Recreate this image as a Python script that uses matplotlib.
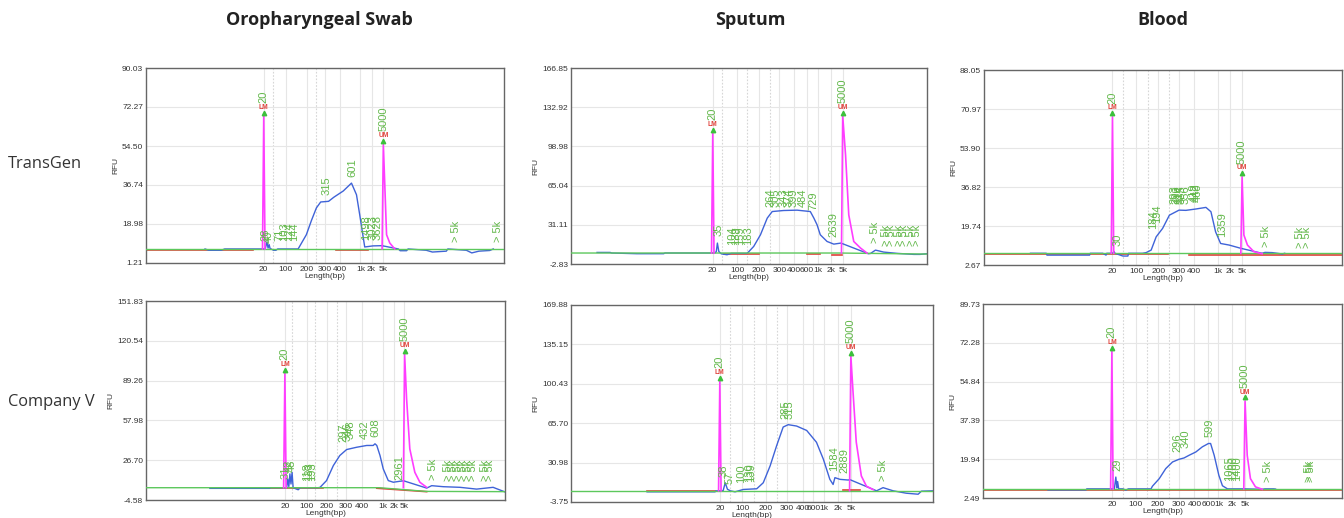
import matplotlib
matplotlib.use('Agg')
import matplotlib.pyplot as plt
from matplotlib import font_manager
from matplotlib.transforms import offset_copy

_installed = {f.name for f in font_manager.fontManager.ttflist}
NARROW = 'Liberation Sans Narrow' if 'Liberation Sans Narrow' in _installed else 'Liberation Sans'
plt.rcParams['font.family'] = ['Liberation Sans', 'DejaVu Sans']

# 标题
COLUMNS = ['Oropharyngeal Swab', 'Sputum', 'Blood']
ROWS = ['TransGen', 'Company V']

LADDER_8 = ['20', '100', '200', '300', '400', '1k', '2k', '5k']
LADDER_9 = ['20', '100', '200', '300', '400', '600', '1k', '2k', '5k']

# x 轴为迁移位置 (0-100)，y 轴为 RFU
# ---- Oropharyngeal Swab / TransGen ----
SWAB_TG_YTICKS = [1.21, 18.98, 36.74, 54.50, 72.27, 90.03]
SWAB_TG_XPOS = [32.9, 39.0, 45.0, 50.0, 54.1, 59.9, 63.0, 66.3]
SWAB_TG_DOTTED = [35.5, 47.5]
SWAB_TG_X = [16.5, 17.5, 21.0, 22.0, 33.3, 33.8, 34.1, 34.4, 34.7, 35.0, 35.6, 36.3, 36.8,
             42.5, 44.8, 46.2, 47.6, 48.8, 51.0, 52.5, 55.1, 57.4, 58.8, 59.7, 61.1, 63.4,
             65.9, 70.5, 71.0, 72.8, 73.2, 78.3, 80.0, 83.9, 84.3, 89.5, 91.0, 93.0, 96.0, 97.0]
SWAB_TG_Y = [7.6, 7.0, 7.0, 7.6, 7.6, 10.8, 8.0, 9.6, 7.6, 7.6, 7.0, 7.0, 7.6,
             7.6, 14.1, 20.5, 26.3, 29.0, 29.3, 31.2, 34.0, 37.6, 32.3, 23.2, 8.5, 9.0,
             9.1, 7.6, 6.8, 6.8, 7.6, 7.0, 6.2, 6.6, 7.6, 7.0, 5.8, 6.6, 6.9, 7.6]
SWAB_TG_LM = (32.9, 68.0)
SWAB_TG_UM = (66.3, 55.1)
SWAB_TG_TAIL_X = [67.2, 68.1, 69.5]
SWAB_TG_TAIL_Y = [14.1, 10.3, 7.6]
SWAB_TG_BASE_X = [0, 100]
SWAB_TG_BASE_Y = [7.6, 7.6]
SWAB_TG_RED = [(0, 30.0, 7.2, 7.2), (53.2, 62.0, 6.9, 6.9)]
SWAB_TG_PEAKS = [(33.3, 11.4, '28'), (34.4, 10.3, '40'), (37.4, 11.1, '71'), (38.5, 11.1, '103'),
                 (40.0, 11.1, '124'), (41.3, 11.1, '144'), (50.4, 32.0, '315'), (57.7, 40.2, '601'),
                 (61.4, 11.8, '1498'), (63.3, 11.8, '3023'), (64.7, 11.8, '3628'),
                 (86.7, 10.8, '> 5k'), (98.3, 10.8, '> 5k')]

# ---- Sputum / TransGen ----
SPUT_TG_YTICKS = [-2.83, 31.11, 65.04, 98.98, 132.92, 166.85]
SPUT_TG_XPOS = [39.8, 46.6, 52.8, 58.5, 62.5, 66.3, 69.3, 73.0, 76.3]
SPUT_TG_DOTTED = [42.4, 49.4, 56.0]
SPUT_TG_X = [7.3, 11.0, 11.4, 18.5, 26.0, 26.4, 40.4, 40.8, 41.1, 41.5, 42.2, 43.8, 45.0,
             49.4, 49.9, 51.3, 53.2, 55.1, 56.5, 59.7, 63.5, 67.2, 68.2, 69.1, 70.0, 71.9,
             73.8, 75.8, 83.5, 84.1, 85.5, 86.5, 87.8, 91.6, 96.3, 98.0, 100.0]
SPUT_TG_Y = [7.2, 7.2, 6.7, 6.1, 6.1, 6.7, 6.7, 8.0, 15.3, 8.0, 6.0, 5.2, 6.4,
             6.4, 7.8, 12.4, 22.5, 36.9, 42.6, 43.5, 43.8, 42.6, 36.9, 31.1, 22.5, 16.7,
             14.4, 15.3, 6.1, 6.3, 9.2, 8.5, 7.5, 6.4, 5.5, 5.5, 6.1]
SPUT_TG_LM = (39.8, 110.2)
SPUT_TG_UM = (76.3, 125.1)
SPUT_TG_TAIL_X = [77.1, 78.0, 79.4, 81.3, 83.1]
SPUT_TG_TAIL_Y = [91.5, 39.7, 16.7, 11.0, 6.7]
SPUT_TG_BASE_X = [0, 75, 100]
SPUT_TG_BASE_Y = [6.7, 6.7, 5.8]
SPUT_TG_RED = [(42.9, 52.7, 6.1, 6.1), (66.3, 70.0, 5.8, 5.8), (73.3, 76.1, 5.2, 5.2)]
SPUT_TG_PEAKS = [(41.3, 21.0, '35'), (45.2, 13.9, '104'), (46.3, 13.9, '139'), (47.6, 13.9, '159'),
                 (49.6, 13.9, '183'), (56.0, 46.9, '264'), (57.4, 46.9, '305'), (59.6, 46.9, '343'),
                 (61.1, 46.9, '374'), (62.5, 46.9, '399'), (65.2, 46.9, '484'), (68.0, 44.0, '729'),
                 (73.8, 20.2, '2639'), (85.5, 15.3, '> 5k'), (88.5, 12.4, '> 5k'), (90.0, 12.4, '> 5k'),
                 (92.0, 12.4, '> 5k'), (93.5, 12.4, '> 5k'), (95.5, 12.4, '> 5k'), (97.2, 12.4, '> 5k')]

# ---- Blood / TransGen ----
BLOOD_TG_YTICKS = [2.67, 19.74, 36.82, 53.90, 70.97, 88.05]
BLOOD_TG_XPOS = [35.9, 42.5, 48.7, 54.5, 58.7, 65.3, 68.7, 72.2]
BLOOD_TG_DOTTED = [38.8, 45.7, 51.6]
BLOOD_TG_X = [13.0, 17.4, 17.6, 29.5, 29.7, 33.2, 34.1, 34.3, 36.0, 36.3, 36.6, 38.8, 40.2,
              40.4, 44.3, 45.3, 46.7, 48.1, 49.9, 51.8, 54.5, 56.4, 59.2, 62.0, 63.4, 64.7,
              66.1, 68.5, 71.7, 77.7, 78.5, 80.5, 83.3, 84.0]
BLOOD_TG_Y = [7.8, 7.8, 7.0, 7.0, 7.8, 7.8, 7.0, 7.8, 7.8, 8.6, 7.8, 6.6, 6.6,
              7.8, 7.8, 8.1, 9.2, 15.0, 18.7, 24.5, 26.7, 26.6, 27.2, 27.9, 26.0, 17.2,
              12.1, 11.4, 10.0, 7.8, 8.2, 8.1, 7.5, 7.8]
BLOOD_TG_LM = (35.9, 67.5)
BLOOD_TG_UM = (72.1, 41.3)
BLOOD_TG_TAIL_X = [72.6, 73.6, 75.4, 77.7]
BLOOD_TG_TAIL_Y = [15.8, 11.4, 8.5, 7.6]
BLOOD_TG_BASE_X = [0, 100]
BLOOD_TG_BASE_Y = [7.8, 7.8]
BLOOD_TG_RED = [(0, 51.3, 7.3, 7.3), (57.3, 100, 7.0, 7.0)]
BLOOD_TG_PEAKS = [(37.2, 11.1, '30'), (47.3, 18.4, '184'), (48.3, 20.9, '194'), (53.2, 29.2, '293'),
                  (53.8, 29.2, '296'), (54.5, 29.2, '314'), (55.3, 29.2, '335'), (56.2, 29.2, '356'),
                  (58.7, 30.4, '419'), (59.2, 30.4, '442'), (59.6, 30.4, '460'), (66.6, 15.1, '1359'),
                  (78.7, 10.7, '> 5k'), (88.4, 10.0, '> 5k'), (90.3, 10.0, '> 5k')]

# ---- Oropharyngeal Swab / Company V ----
SWAB_CV_YTICKS = [-4.58, 26.70, 57.98, 89.26, 120.54, 151.83]
SWAB_CV_XPOS = [38.7, 44.8, 50.3, 55.7, 60.1, 66.1, 69.2, 72.0]
SWAB_CV_DOTTED = [40.6, 47.1, 53.1]
SWAB_CV_X = [17.8, 34.5, 34.7, 39.2, 39.5, 39.8, 40.1, 40.4, 40.7, 41.0, 42.4, 43.0, 48.0,
             48.5, 50.3, 52.2, 54.0, 55.9, 58.7, 61.5, 63.3, 63.8, 64.3, 65.2, 66.1, 67.5,
             68.9, 70.8, 71.8, 78.2, 79.6, 82.8, 87.5, 92.1, 96.7, 100.0]
SWAB_CV_Y = [4.6, 4.6, 5.1, 5.1, 12.0, 6.0, 16.0, 8.0, 17.2, 5.1, 3.5, 5.1, 5.1,
             5.4, 10.7, 22.5, 30.4, 35.1, 36.9, 38.3, 38.3, 39.6, 38.3, 30.4, 19.9, 10.7,
             9.4, 10.2, 10.5, 4.8, 6.7, 5.9, 5.4, 4.0, 5.4, 1.8]
SWAB_CV_LM = (38.7, 94.8)
SWAB_CV_UM = (72.05, 109.8)
SWAB_CV_TAIL_X = [72.6, 73.5, 74.9, 76.3, 78.2]
SWAB_CV_TAIL_Y = [75.1, 35.6, 17.2, 9.4, 5.4]
SWAB_CV_BASE_X = [0, 65.0, 78.0, 100]
SWAB_CV_BASE_Y = [5.1, 5.1, 2.2, 2.0]
SWAB_CV_RED = [(34.5, 49.4, 4.7, 4.7), (64.3, 78.2, 4.7, 2.0)]
SWAB_CV_PEAKS = [(39.0, 12.0, '31'), (39.9, 17.2, '42'), (40.6, 17.2, '48'), (44.8, 10.7, '118'),
                 (45.5, 10.7, '133'), (46.4, 10.7, '193'), (55.0, 40.9, '297'), (56.1, 42.2, '346'),
                 (57.0, 43.0, '348'), (61.0, 43.5, '432'), (63.8, 44.8, '608'), (70.6, 11.5, '2961'),
                 (79.9, 11.5, '> 5k'), (84.2, 10.1, '> 5k'), (85.6, 10.1, '> 5k'), (87.0, 10.1, '> 5k'),
                 (88.4, 10.1, '> 5k'), (89.8, 10.1, '> 5k'), (91.2, 10.1, '> 5k'), (94.4, 10.1, '> 5k'),
                 (95.8, 10.1, '> 5k')]

# ---- Sputum / Company V ----
SPUT_CV_YTICKS = [-3.75, 30.98, 65.70, 100.43, 135.15, 169.88]
SPUT_CV_XPOS = [41.1, 47.3, 53.9, 59.6, 64.0, 66.9, 69.9, 73.8, 77.3]
SPUT_CV_DOTTED = [43.8, 50.5, 56.8]
SPUT_CV_X = [21.0, 39.8, 40.0, 42.0, 42.6, 43.2, 44.0, 45.3, 47.6, 51.3, 53.1, 55.0, 56.8,
             58.6, 60.0, 62.3, 65.1, 67.8, 69.7, 71.5, 72.4, 72.9, 74.3, 76.6, 77.0, 84.4,
             86.2, 89.0, 92.6, 95.9, 96.8, 100.0]
SPUT_CV_Y = [5.2, 5.2, 6.1, 6.1, 13.2, 7.5, 6.1, 5.2, 7.3, 7.9, 13.2, 28.1, 45.9,
             62.3, 64.4, 63.2, 59.3, 48.9, 34.0, 16.2, 11.7, 17.7, 16.2, 15.6, 16.0, 6.1,
             8.9, 6.1, 4.0, 3.1, 5.8, 6.1]
SPUT_CV_LM = (41.1, 102.4)
SPUT_CV_UM = (77.3, 124.8)
SPUT_CV_TAIL_X = [77.9, 78.8, 80.2, 81.6, 83.5]
SPUT_CV_TAIL_Y = [93.5, 48.9, 19.2, 10.2, 7.1]
SPUT_CV_BASE_X = [0, 100]
SPUT_CV_BASE_Y = [6.1, 6.1]
SPUT_CV_RED = [(21.0, 39.8, 5.5, 5.5), (75.2, 79.8, 6.4, 6.4)]
SPUT_CV_PEAKS = [(42.1, 18.6, '38'), (43.8, 11.7, '57'), (47.0, 13.2, '100'), (49.2, 14.1, '130'),
                 (49.8, 14.1, '139'), (59.1, 69.7, '285'), (60.5, 69.2, '315'), (72.6, 23.6, '1584'),
                 (75.4, 22.1, '2889'), (86.2, 14.7, '> 5k')]

# ---- Blood / Company V ----
BLOOD_CV_YTICKS = [2.49, 19.94, 37.39, 54.84, 72.28, 89.73]
BLOOD_CV_XPOS = [35.9, 42.6, 48.7, 54.6, 58.9, 62.8, 65.6, 69.3, 73.0]
BLOOD_CV_DOTTED = [38.9, 45.8, 51.9]
BLOOD_CV_X = [18.1, 28.7, 28.9, 36.6, 37.0, 37.3, 37.5, 37.8, 39.0, 39.8, 40.5, 46.8, 47.2,
              49.1, 50.9, 52.8, 54.6, 56.0, 57.4, 59.3, 61.1, 62.8, 63.4, 64.4, 65.7, 66.7,
              68.1, 72.2, 72.8, 77.8, 78.5, 81.0, 81.5]
BLOOD_CV_Y = [6.1, 6.1, 6.6, 6.6, 11.9, 7.0, 9.9, 6.6, 6.6, 6.0, 6.6, 6.6, 7.8,
              11.2, 15.7, 18.7, 19.9, 20.5, 21.7, 23.2, 25.5, 27.0, 27.0, 21.7, 12.7, 8.0,
              6.6, 6.6, 6.6, 6.4, 6.6, 6.6, 6.5]
BLOOD_CV_LM = (35.9, 68.4)
BLOOD_CV_UM = (73.0, 46.1)
BLOOD_CV_TAIL_X = [73.6, 74.5, 75.9, 77.8]
BLOOD_CV_TAIL_Y = [21.7, 11.2, 7.5, 6.4]
BLOOD_CV_BASE_X = [0, 100]
BLOOD_CV_BASE_Y = [6.55, 6.55]
BLOOD_CV_RED = [(0, 100, 5.9, 5.9)]
BLOOD_CV_PEAKS = [(37.5, 14.7, '29'), (54.2, 23.2, '296'), (56.5, 24.8, '340'), (63.0, 29.7, '599'),
                  (68.5, 10.0, '1065'), (69.6, 10.0, '1200'), (70.8, 10.0, '1400'),
                  (79.4, 9.7, '> 5k'), (90.7, 9.7, '> 5k'), (91.5, 9.7, '> 5k')]

# 颜色
BLUE = '#3F63D8'
PINK = '#FF3DFF'
GREEN_LINE = '#5CC85C'
RED = '#E0413A'
GREEN_TXT = '#62B84A'


def panel(prefix, xlab):
    g = globals()
    keys = ['YTICKS', 'XPOS', 'DOTTED', 'X', 'Y', 'LM', 'UM', 'TAIL_X', 'TAIL_Y',
            'BASE_X', 'BASE_Y', 'RED', 'PEAKS']
    d = {k.lower(): g[f'{prefix}_{k}'] for k in keys}
    d['xlab'] = xlab
    return d


PANELS = [
    (panel('SWAB_TG', LADDER_8), [0.1086, 0.4923, 0.2664, 0.3764]),
    (panel('SPUT_TG', LADDER_9), [0.4249, 0.4903, 0.2649, 0.3784]),
    (panel('BLOOD_TG', LADDER_8), [0.7321, 0.4884, 0.2664, 0.3764]),
    (panel('SWAB_CV', LADDER_8), [0.1086, 0.0347, 0.2671, 0.3842]),
    (panel('SPUT_CV', LADDER_9), [0.4249, 0.0309, 0.2693, 0.3803]),
    (panel('BLOOD_CV', LADDER_9), [0.7314, 0.0386, 0.2671, 0.3745]),
]


def draw_panel(fig, ax, d):
    yt = d['yticks']
    ax.set_xlim(0, 100)
    ax.set_ylim(yt[0], yt[-1])
    ax.set_yticks(yt)
    ax.set_yticklabels([f'{v:.2f}' for v in yt])
    ax.set_xticks(d['xpos'])
    ax.set_xticklabels(d['xlab'])
    ax.tick_params(length=0, labelsize=6, colors='#333333', pad=2)
    ax.grid(True, color='#e6e6e6', lw=0.8)
    ax.set_axisbelow(True)
    for x in d['dotted']:
        ax.axvline(x, color='#d6d6d6', lw=0.8, ls=(0, (1.5, 1.5)), zorder=0.5)
    for s in ax.spines.values():
        s.set_color('#666666')
        s.set_linewidth(1.0)
    ax.set_ylabel('RFU', fontsize=6, labelpad=2, color='#333333')
    ax.set_xlabel('Length(bp)', fontsize=6, labelpad=0, color='#333333')

    base = d['base_y'][0]
    for x0, x1, y0, y1 in d['red']:
        ax.plot([x0, x1], [y0, y1], color=RED, lw=1.2, zorder=2)
    ax.plot(d['x'], d['y'], color=BLUE, lw=1.0, zorder=2.5)
    ax.plot(d['base_x'], d['base_y'], color=GREEN_LINE, lw=1.0, zorder=3)

    lx, lh = d['lm']
    ux, uh = d['um']
    ax.plot([lx - 0.35, lx, lx + 0.35], [base, lh, base], color=PINK, lw=1.2, zorder=4)
    ax.plot([ux - 0.35, ux] + d['tail_x'], [base, uh] + d['tail_y'], color=PINK, lw=1.2, zorder=4)

    up = offset_copy(ax.transData, fig=fig, y=2.6, units='points')
    for x, h, tag, lab in [(lx, lh, 'LM', '20'), (ux, uh, 'UM', '5000')]:
        ax.plot([x], [h], marker='^', ms=3.2, color='#3CC03C', mec='#3CC03C', transform=up,
                zorder=5, clip_on=False)
        ax.annotate(tag, (x, h), xytext=(0, 6.5), textcoords='offset points', ha='center',
                    va='center', fontsize=4.8, fontweight='bold', color=RED, zorder=5)
        ax.annotate(lab, (x, h), xytext=(0, 9.5), textcoords='offset points', ha='center',
                    va='bottom', rotation=90, fontsize=8, color=GREEN_TXT, family=NARROW, zorder=5)

    for x, y, t in d['peaks']:
        ax.text(x, y, t, rotation=90, ha='center', va='bottom', fontsize=8,
                color=GREEN_TXT, family=NARROW, zorder=5)


fig = plt.figure(figsize=(13.44, 5.18), dpi=100)

for d, rect in PANELS:
    ax = fig.add_axes(rect)
    draw_panel(fig, ax, d)

for i, t in enumerate(COLUMNS):
    fig.text([0.238, 0.558, 0.865][i], 0.961, t, ha='center', va='center',
             fontsize=13, fontweight='bold', color='#222222', family=['Open Sans', 'DejaVu Sans'])

for i, t in enumerate(ROWS):
    fig.text(0.006, [0.683, 0.224][i], t, ha='left', va='center',
             fontsize=11.8, color='#333333', family=['Open Sans', 'DejaVu Sans'])

fig.savefig('out.png', dpi=100)
